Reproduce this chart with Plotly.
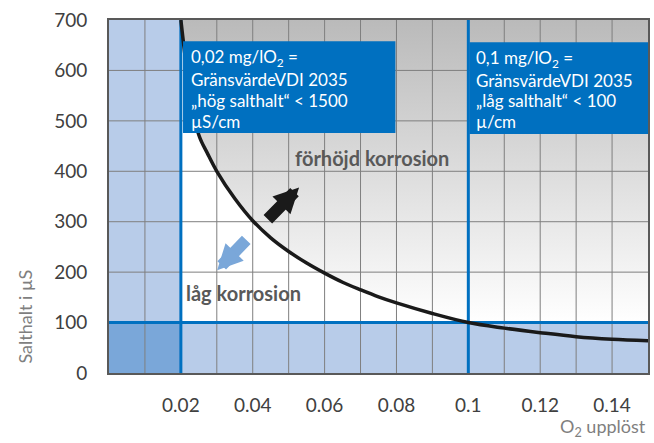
import plotly.graph_objects as go

# ---- data ----
curve_x = [0.02, 0.0225, 0.025, 0.0275, 0.03, 0.035, 0.04, 0.045, 0.05, 0.055, 0.06, 0.065, 0.07, 0.075, 0.08, 0.09, 0.10, 0.11, 0.12, 0.13, 0.14, 0.15]
curve_y = [700, 560, 472, 434, 400, 346, 302, 268, 241, 218, 198, 180, 165, 151, 139, 118, 100, 89, 80, 72, 67, 64]

x_ticks = [0.02, 0.04, 0.06, 0.08, 0.10, 0.12, 0.14]
x_ticktext = ["0.02", "0.04", "0.06", "0.08", "0.1", "0.12", "0.14"]
y_ticks = [0, 100, 200, 300, 400, 500, 600, 700]

limit_low_o2 = 0.02      # mg/l O2
limit_high_o2 = 0.1
limit_salt = 100
x_max = 0.15
y_max = 700

grid_x = [i / 100 for i in range(1, 15)]
grid_y = [100, 200, 300, 400, 500, 600]

box1_lines = ["0,02 mg/lO<sub>2</sub> =", "GränsvärdeVDI 2035", "„hög salthalt“ < 1500", "µS/cm"]
box2_lines = ["0,1 mg/lO<sub>2</sub> =", "GränsvärdeVDI 2035", "„låg salthalt“ < 100", "µ/cm"]
box_line_y = [624, 582, 541, 499]

FONT = "Lato"
BLUE = "#0070c0"
LIGHT = "#b8cce9"
DARK = "#7aa7d9"
GRID = "#7f7f7f"

fig = go.Figure()

# gray gradient area above the curve
fig.add_trace(go.Scatter(
    x=curve_x + [x_max, limit_low_o2], y=curve_y + [y_max, y_max],
    mode="lines", line=dict(width=0), fill="toself",
    fillgradient=dict(type="vertical", colorscale=[[0, "#ffffff"], [1, "#bababa"]],
                      start=limit_salt, stop=y_max),
    hoverinfo="skip", showlegend=False))

# light blue zones
def rect(x0, x1, y0, y1, color):
    fig.add_trace(go.Scatter(x=[x0, x1, x1, x0, x0], y=[y0, y0, y1, y1, y0],
                             mode="lines", line=dict(width=0), fill="toself",
                             fillcolor=color, hoverinfo="skip", showlegend=False))

rect(0, limit_low_o2, 0, y_max, LIGHT)
rect(0, x_max, 0, limit_salt, LIGHT)
rect(0, limit_low_o2, 0, limit_salt, DARK)

# grid lines (drawn on top of fills)
gx, gy = [], []
for v in grid_x:
    gx += [v, v, None]; gy += [0, y_max, None]
for v in grid_y:
    gx += [0, x_max, None]; gy += [v, v, None]
fig.add_trace(go.Scatter(x=gx, y=gy, mode="lines", line=dict(color=GRID, width=1),
                         hoverinfo="skip", showlegend=False))

# blue limit lines
fig.add_trace(go.Scatter(
    x=[limit_low_o2, limit_low_o2, None, limit_high_o2, limit_high_o2, None, 0, x_max],
    y=[0, y_max, None, 0, y_max, None, limit_salt, limit_salt],
    mode="lines", line=dict(color=BLUE, width=3), hoverinfo="skip", showlegend=False))

# curve
fig.add_trace(go.Scatter(x=curve_x, y=curve_y, mode="lines",
                         line=dict(color="#1a1a1a", width=3.5, shape="spline", smoothing=1.0),
                         hoverinfo="skip", showlegend=False))

# text boxes
fig.add_shape(type="rect", x0=0.0206, x1=0.0797, y0=476, y1=658,
              fillcolor=BLUE, line=dict(width=0), layer="above")
fig.add_shape(type="rect", x0=0.1003, x1=0.1503, y0=474, y1=656,
              fillcolor=BLUE, line=dict(width=0), layer="above")
for txt, yy in zip(box1_lines, box_line_y):
    fig.add_annotation(x=0.0222, y=yy, text=txt, showarrow=False, xanchor="left", yanchor="middle",
                       align="left", font=dict(family=FONT, size=17, color="white"))
for txt, yy in zip(box2_lines, box_line_y):
    fig.add_annotation(x=0.1017, y=yy - 1, text=txt, showarrow=False, xanchor="left", yanchor="middle",
                       align="left", font=dict(family=FONT, size=17, color="white"))

# labels
fig.add_annotation(x=0.0732, y=426, text="<b>förhöjd korrosion</b>", showarrow=False,
                   font=dict(family=FONT, size=20, color="#595959"))
fig.add_annotation(x=0.0374, y=159, text="<b>låg korrosion</b>", showarrow=False,
                   font=dict(family=FONT, size=20, color="#595959"))

# arrows
fig.add_annotation(x=0.0529, y=368, ax=0.0438, ay=302, xref="x", yref="y", axref="x", ayref="y",
                   text="", showarrow=True, arrowhead=2, arrowsize=0.42, arrowwidth=12, arrowcolor="#1a1a1a")
fig.add_annotation(x=0.0301, y=204, ax=0.0386, ay=267, xref="x", yref="y", axref="x", ayref="y",
                   text="", showarrow=True, arrowhead=2, arrowsize=0.42, arrowwidth=12, arrowcolor="#7aa7d9")

# axis titles
fig.add_annotation(x=1.0, y=-0.155, xref="paper", yref="paper", xanchor="right", yanchor="middle",
                   text="O<sub>2</sub> upplöst", showarrow=False,
                   font=dict(family=FONT, size=18, color="#7f7f7f"))
fig.add_annotation(x=-0.155, y=0.161, xref="paper", yref="paper", xanchor="center", yanchor="middle",
                   text="Salthalt i µS", textangle=-90, showarrow=False,
                   font=dict(family=FONT, size=18, color="#7f7f7f"))

fig.update_layout(
    width=654, height=443,
    margin=dict(l=109, r=6, t=20, b=70, autoexpand=False),
    paper_bgcolor="white", plot_bgcolor="white",
    showlegend=False,
    xaxis=dict(range=[0, x_max], tickvals=x_ticks, ticktext=x_ticktext, showgrid=False,
               zeroline=False, showline=True, linecolor="#595959", linewidth=2, mirror=True,
               ticks="", ticklabelstandoff=14, automargin=False,
               tickfont=dict(family=FONT, size=19, color="#404040")),
    yaxis=dict(range=[0, y_max], tickvals=y_ticks, showgrid=False, zeroline=False,
               showline=True, linecolor="#595959", linewidth=2, mirror=True,
               ticks="", ticklabelstandoff=16, automargin=False,
               tickfont=dict(family=FONT, size=19, color="#404040")),
)

fig.write_html("out.html", config={"displayModeBar": False},
               post_script="document.body.style.margin='0';document.body.style.overflow='hidden';")
